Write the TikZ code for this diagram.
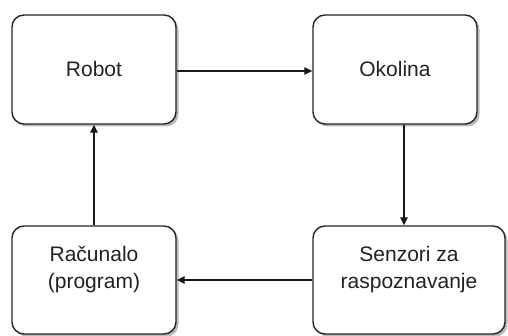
\documentclass[tikz,border=0pt]{standalone}
\usepackage{fontspec}
\setmainfont{Liberation Sans}
\usetikzlibrary{arrows.meta}
\definecolor{txt}{HTML}{222222}
\begin{document}
\begin{tikzpicture}[x=1pt,y=1pt,
  box/.style={draw=black!85, line width=1.4pt, rounded corners=12pt, fill=white,
    inner sep=0pt, font=\fontsize{21}{27}\selectfont, text=txt, align=center,
    drop shadow={shadow xshift=2.5pt, shadow yshift=-2.5pt, fill=black!45, opacity=0.6}},
  lbl/.style={font=\fontsize{21}{27}\selectfont, text=txt, align=center},
  conn/.style={draw=black!90, line width=1.2pt, -{Triangle[length=8pt,width=7.5pt]}}]
\usetikzlibrary{shadows}
\useasboundingbox (0,0) rectangle (508,336);
\node[box, minimum width=164pt, minimum height=109pt] (robot) at (94,266.5) {\raisebox{-3pt}{Robot}};
\node[box, minimum width=164pt, minimum height=109pt] (okolina) at (395,266.5) {\raisebox{-3pt}{Okolina}};
\node[box, minimum width=164pt, minimum height=108pt,
  label={[lbl, yshift=10pt]center:Računalo\\(program)}] (racunalo) at (94,56) {};
\node[box, minimum width=192pt, minimum height=108pt,
  label={[lbl, yshift=10pt]center:Senzori za\\raspoznavanje}] (senzori) at (409,56) {};
\draw[conn] ([yshift=-1.5pt]robot.east) -- ([yshift=-1.5pt]okolina.west);
\draw[conn] ([xshift=9pt]okolina.south) -- ([xshift=9pt]okolina.south |- senzori.north);
\draw[conn] (senzori.west) -- (racunalo.east);
\draw[conn] (racunalo.north) -- (robot.south);
\end{tikzpicture}
\end{document}
